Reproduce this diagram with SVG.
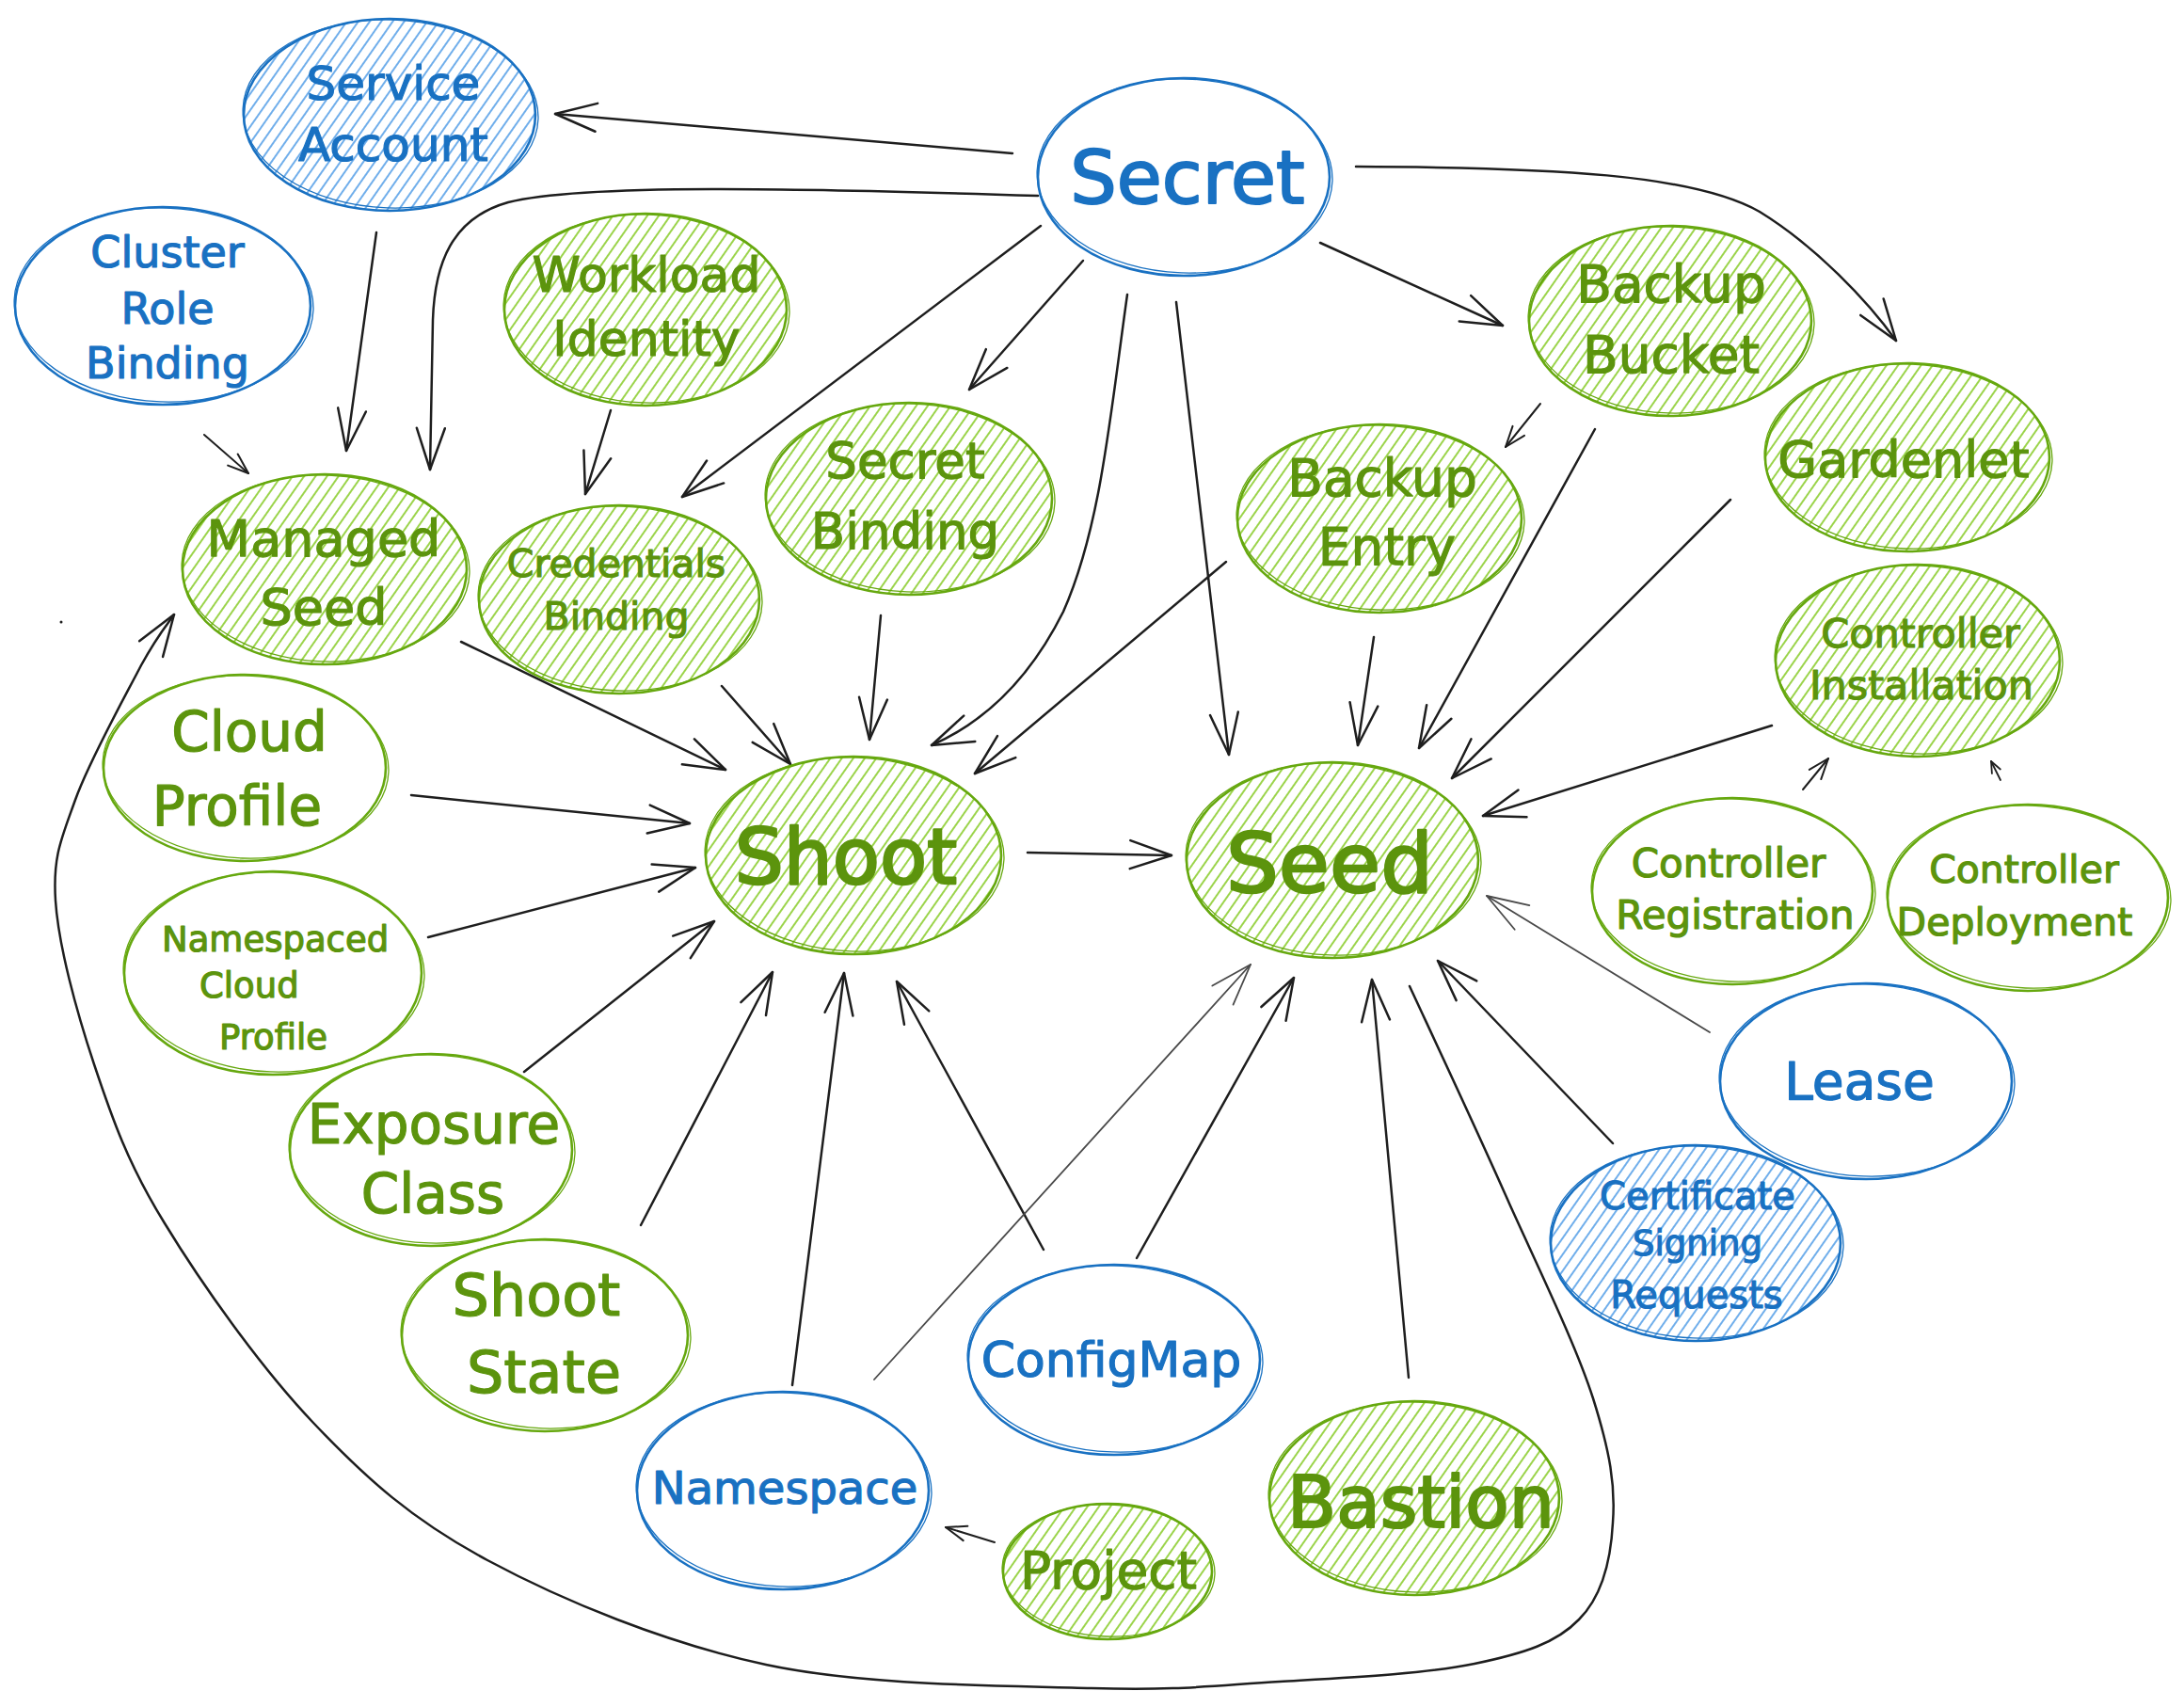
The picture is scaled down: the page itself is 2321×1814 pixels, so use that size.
<svg xmlns="http://www.w3.org/2000/svg" width="2321" height="1814" viewBox="0 0 2321 1814">
<style>
text{font-family:"DejaVu Sans","Liberation Sans",sans-serif;text-anchor:middle;stroke-width:1.2;stroke-linejoin:round}
.gt{fill:#5c940d;stroke:#5c940d}
.bt{fill:#1971c2;stroke:#1971c2}
.ge{fill:none;stroke:#66a80f;stroke-width:2.6}
.ge2{fill:none;stroke:#66a80f;stroke-width:1.3}
.be{fill:none;stroke:#1971c2;stroke-width:2.6}
.be2{fill:none;stroke:#1971c2;stroke-width:1.3}
.gh{fill:url(#hg);stroke:none}
.bh{fill:url(#hb);stroke:none}
.c{fill:none;stroke:#1e1e1e;stroke-width:2.5;stroke-linecap:round;marker-end:url(#ah)}
.cs{fill:none;stroke:#1e1e1e;stroke-width:2;stroke-linecap:round;marker-end:url(#ahs)}
.ct{fill:none;stroke:#1e1e1e;stroke-width:1.8;stroke-linecap:round;marker-end:url(#aht)}
.cg{fill:none;stroke:#4a4a4a;stroke-width:1.8;stroke-linecap:round;marker-end:url(#ahg)}
</style>
<defs>
<pattern id="hg" patternUnits="userSpaceOnUse" width="10" height="10" patternTransform="rotate(35)">
<line x1="5" y1="0" x2="5" y2="10" stroke="#82c91e" stroke-width="1.6"/>
</pattern>
<pattern id="hb" patternUnits="userSpaceOnUse" width="10" height="10" patternTransform="rotate(35)">
<line x1="5" y1="0" x2="5" y2="10" stroke="#4c9ae6" stroke-width="1.6"/>
</pattern>
<marker id="ah" viewBox="-3 -3 50 36" refX="44" refY="15" markerWidth="50" markerHeight="36" orient="auto" markerUnits="userSpaceOnUse">
<path d="M0,0 L44,15 L0,30" fill="none" stroke="#1e1e1e" stroke-width="2.5" stroke-linecap="round" stroke-linejoin="round"/>
</marker>
<marker id="ahs" viewBox="-3 -3 28 22" refX="22" refY="8" markerWidth="28" markerHeight="22" orient="auto" markerUnits="userSpaceOnUse">
<path d="M0,0 L22,8 L0,16" fill="none" stroke="#1e1e1e" stroke-width="2" stroke-linecap="round" stroke-linejoin="round"/>
</marker>
<marker id="aht" viewBox="-3 -3 18 16" refX="12" refY="5" markerWidth="18" markerHeight="16" orient="auto" markerUnits="userSpaceOnUse">
<path d="M0,0 L12,5 L0,10" fill="none" stroke="#1e1e1e" stroke-width="1.8" stroke-linecap="round" stroke-linejoin="round"/>
</marker>
<marker id="ahg" viewBox="-3 -3 50 36" refX="44" refY="15" markerWidth="50" markerHeight="36" orient="auto" markerUnits="userSpaceOnUse">
<path d="M0,0 L44,15 L0,30" fill="none" stroke="#4a4a4a" stroke-width="1.8" stroke-linecap="round" stroke-linejoin="round"/>
</marker>
</defs>
<rect width="2321" height="1814" fill="#ffffff"/>

<g id="connectors">
<path class="c" d="M1076,163 L590,121"/>
<path class="c" d="M1103,208 C850,200 620,195 540,215 C480,232 462,280 460,340 L457,499"/>
<path class="c" d="M400,247 L368,479"/>
<path class="cs" d="M217,462 L264,503"/>
<path class="c" d="M649,436 L622,525"/>
<path class="c" d="M1106,240 L725,528"/>
<path class="c" d="M1151,277 L1030,414"/>
<path class="c" d="M1198,313 C1180,440 1170,560 1130,650 C1090,730 1040,770 990,792"/>
<path class="c" d="M1250,321 L1306,802"/>
<path class="c" d="M1403,258 L1597,346"/>
<path class="c" d="M1441,177 C1650,178 1800,185 1870,225 C1930,262 1985,320 2015,362"/>
<path class="cs" d="M1637,429 L1600,475"/>
<path class="c" d="M1695,456 L1508,795"/>
<path class="c" d="M1839,531 L1543,827"/>
<path class="c" d="M1303,597 L1036,822"/>
<path class="c" d="M1460,677 L1443,792"/>
<path class="c" d="M1883,771 L1576,867"/>
<path class="cs" d="M1916,839 L1943,806"/>
<path class="ct" d="M2126,829 L2116,809"/>
<path class="c" d="M490,682 L771,818"/>
<path class="c" d="M767,729 L840,812"/>
<path class="c" d="M936,654 L924,786"/>
<path class="c" d="M437,845 L733,875"/>
<path class="c" d="M1092,906 L1245,909"/>
<path class="c" d="M455,996 L739,922"/>
<path class="c" d="M557,1139 L759,979"/>
<path class="c" d="M681,1302 L821,1033"/>
<path class="c" d="M842,1472 L897,1034"/>
<path class="c" d="M1109,1328 L953,1043"/>
<path class="cg" d="M929,1466 L1329,1025"/>
<path class="c" d="M1208,1337 L1375,1039"/>
<path class="c" d="M1497,1464 L1458,1041"/>
<path class="cg" d="M1817,1097 L1580,952"/>
<path class="c" d="M1714,1215 L1528,1021"/>
<path class="cs" d="M1057,1639 L1005,1623"/>
<path class="c" d="M1498,1048 C1516,1087 1572,1206 1604,1279 C1637,1352 1675,1430 1693,1486 C1711,1543 1717,1579 1714,1618 C1712,1657 1703,1696 1678,1721 C1654,1746 1620,1757 1567,1768 C1514,1779 1428,1783 1360,1787 C1292,1791 1251,1797 1160,1794 C1069,1791 921,1792 814,1769 C707,1746 598,1701 518,1658 C438,1615 390,1572 333,1512 C276,1452 214,1364 175,1300 C136,1237 119,1188 100,1131 C81,1074 62,1004 59,957 C56,910 65,892 80,850 C95,808 133,740 150,707 C168,674 179,662 185,653"/>
<circle cx="65" cy="661" r="1.5" fill="#1e1e1e"/>
</g>

<g id="service-account">
<ellipse class="bh" cx="414" cy="122" rx="155" ry="102"/>
<ellipse class="be" cx="414" cy="122" rx="155" ry="102"/>
<ellipse class="be2" cx="415" cy="121" rx="157" ry="100" transform="rotate(2 414 122)"/>
<text class="bt" x="418" y="106" font-size="50">Service</text>
<text class="bt" x="418" y="171" font-size="50">Account</text>
</g>

<g id="secret">
<ellipse class="be" cx="1258" cy="188" rx="155" ry="105"/>
<ellipse class="be2" cx="1259" cy="187" rx="157" ry="103" transform="rotate(2 1258 188)"/>
<text class="bt" x="1262" y="216" font-size="78" style="stroke-width:2">Secret</text>
</g>

<g id="cluster-role-binding">
<ellipse class="be" cx="173" cy="325" rx="157" ry="105"/>
<ellipse class="be2" cx="174" cy="324" rx="159" ry="103" transform="rotate(2 173 325)"/>
<text class="bt" x="178" y="284" font-size="46">Cluster</text>
<text class="bt" x="178" y="344" font-size="46">Role</text>
<text class="bt" x="178" y="402" font-size="46">Binding</text>
</g>

<g id="workload-identity">
<ellipse class="gh" cx="686" cy="329" rx="150" ry="102"/>
<ellipse class="ge" cx="686" cy="329" rx="150" ry="102"/>
<ellipse class="ge2" cx="687" cy="328" rx="152" ry="100" transform="rotate(2 686 329)"/>
<text class="gt" x="687" y="310" font-size="52">Workload</text>
<text class="gt" x="687" y="378" font-size="52">Identity</text>
</g>

<g id="managed-seed">
<ellipse class="gh" cx="345" cy="605" rx="151" ry="101"/>
<ellipse class="ge" cx="345" cy="605" rx="151" ry="101"/>
<ellipse class="ge2" cx="346" cy="604" rx="153" ry="99" transform="rotate(2 345 605)"/>
<text class="gt" x="344" y="591" font-size="54">Managed</text>
<text class="gt" x="344" y="664" font-size="54">Seed</text>
</g>

<g id="credentials-binding">
<ellipse class="gh" cx="658" cy="637" rx="149" ry="100"/>
<ellipse class="ge" cx="658" cy="637" rx="149" ry="100"/>
<ellipse class="ge2" cx="659" cy="636" rx="151" ry="98" transform="rotate(2 658 637)"/>
<text class="gt" x="655" y="613" font-size="41">Credentials</text>
<text class="gt" x="655" y="669" font-size="41">Binding</text>
</g>

<g id="secret-binding">
<ellipse class="gh" cx="966" cy="530" rx="152" ry="102"/>
<ellipse class="ge" cx="966" cy="530" rx="152" ry="102"/>
<ellipse class="ge2" cx="967" cy="529" rx="154" ry="100" transform="rotate(2 966 530)"/>
<text class="gt" x="962" y="508" font-size="53">Secret</text>
<text class="gt" x="962" y="583" font-size="53">Binding</text>
</g>

<g id="cloud-profile">
<ellipse class="ge" cx="260" cy="816" rx="150" ry="99"/>
<ellipse class="ge2" cx="261" cy="815" rx="152" ry="97" transform="rotate(2 260 816)"/>
<text class="gt" x="265" y="798" font-size="58">Cloud</text>
<text class="gt" x="252" y="877" font-size="58">Profile</text>
</g>

<g id="shoot">
<ellipse class="gh" cx="907" cy="909" rx="157" ry="105"/>
<ellipse class="ge" cx="907" cy="909" rx="157" ry="105"/>
<ellipse class="ge2" cx="908" cy="908" rx="159" ry="103" transform="rotate(2 907 909)"/>
<text class="gt" x="899" y="939" font-size="82" style="stroke-width:2.5">Shoot</text>
</g>

<g id="seed">
<ellipse class="gh" cx="1416" cy="914" rx="155" ry="104"/>
<ellipse class="ge" cx="1416" cy="914" rx="155" ry="104"/>
<ellipse class="ge2" cx="1417" cy="913" rx="157" ry="102" transform="rotate(2 1416 914)"/>
<text class="gt" x="1413" y="948" font-size="88" style="stroke-width:2.5">Seed</text>
</g>

<g id="backup-bucket">
<ellipse class="gh" cx="1775" cy="341" rx="150" ry="101"/>
<ellipse class="ge" cx="1775" cy="341" rx="150" ry="101"/>
<ellipse class="ge2" cx="1776" cy="340" rx="152" ry="99" transform="rotate(2 1775 341)"/>
<text class="gt" x="1776" y="321" font-size="55">Backup</text>
<text class="gt" x="1776" y="396" font-size="55">Bucket</text>
</g>

<g id="gardenlet">
<ellipse class="gh" cx="2027" cy="486" rx="151" ry="100"/>
<ellipse class="ge" cx="2027" cy="486" rx="151" ry="100"/>
<ellipse class="ge2" cx="2028" cy="485" rx="153" ry="98" transform="rotate(2 2027 486)"/>
<text class="gt" x="2023" y="507" font-size="54">Gardenlet</text>
</g>

<g id="backup-entry">
<ellipse class="gh" cx="1466" cy="551" rx="151" ry="100"/>
<ellipse class="ge" cx="1466" cy="551" rx="151" ry="100"/>
<ellipse class="ge2" cx="1467" cy="550" rx="153" ry="98" transform="rotate(2 1466 551)"/>
<text class="gt" x="1469" y="527" font-size="55">Backup</text>
<text class="gt" x="1474" y="600" font-size="55">Entry</text>
</g>

<g id="controller-installation">
<ellipse class="gh" cx="2038" cy="702" rx="151" ry="102"/>
<ellipse class="ge" cx="2038" cy="702" rx="151" ry="102"/>
<ellipse class="ge2" cx="2039" cy="701" rx="153" ry="100" transform="rotate(2 2038 702)"/>
<text class="gt" x="2041" y="688" font-size="43">Controller</text>
<text class="gt" x="2042" y="743" font-size="43">Installation</text>
</g>

<g id="controller-registration">
<ellipse class="ge" cx="1841" cy="947" rx="149" ry="99"/>
<ellipse class="ge2" cx="1842" cy="946" rx="151" ry="97" transform="rotate(2 1841 947)"/>
<text class="gt" x="1837" y="932" font-size="42">Controller</text>
<text class="gt" x="1844" y="987" font-size="42">Registration</text>
</g>

<g id="controller-deployment">
<ellipse class="ge" cx="2155" cy="954" rx="149" ry="99"/>
<ellipse class="ge2" cx="2156" cy="953" rx="151" ry="97" transform="rotate(2 2155 954)"/>
<text class="gt" x="2151" y="938" font-size="41">Controller</text>
<text class="gt" x="2141" y="994" font-size="41">Deployment</text>
</g>

<g id="lease">
<ellipse class="be" cx="1983" cy="1149" rx="155" ry="104"/>
<ellipse class="be2" cx="1984" cy="1148" rx="157" ry="102" transform="rotate(2 1983 1149)"/>
<text class="bt" x="1976" y="1168" font-size="55">Lease</text>
</g>

<g id="certificate-signing-requests">
<ellipse class="bh" cx="1802" cy="1321" rx="154" ry="104"/>
<ellipse class="be" cx="1802" cy="1321" rx="154" ry="104"/>
<ellipse class="be2" cx="1803" cy="1320" rx="156" ry="102" transform="rotate(2 1802 1321)"/>
<text class="bt" x="1804" y="1285" font-size="40">Certificate</text>
<text class="bt" x="1804" y="1334" font-size="37">Signing</text>
<text class="bt" x="1803" y="1390" font-size="40">Requests</text>
</g>

<g id="configmap">
<ellipse class="be" cx="1184" cy="1445" rx="155" ry="101"/>
<ellipse class="be2" cx="1185" cy="1444" rx="157" ry="99" transform="rotate(2 1184 1445)"/>
<text class="bt" x="1181" y="1463" font-size="52">ConfigMap</text>
</g>

<g id="bastion">
<ellipse class="gh" cx="1503" cy="1592" rx="154" ry="103"/>
<ellipse class="ge" cx="1503" cy="1592" rx="154" ry="103"/>
<ellipse class="ge2" cx="1504" cy="1591" rx="156" ry="101" transform="rotate(2 1503 1592)"/>
<text class="gt" x="1510" y="1623" font-size="76" style="stroke-width:2.2">Bastion</text>
</g>

<g id="project">
<ellipse class="gh" cx="1177" cy="1670" rx="111" ry="72"/>
<ellipse class="ge" cx="1177" cy="1670" rx="111" ry="72"/>
<ellipse class="ge2" cx="1178" cy="1669" rx="113" ry="70" transform="rotate(2 1177 1670)"/>
<text class="gt" x="1178" y="1688" font-size="55">Project</text>
</g>

<g id="namespace">
<ellipse class="be" cx="832" cy="1584" rx="155" ry="105"/>
<ellipse class="be2" cx="833" cy="1583" rx="157" ry="103" transform="rotate(2 832 1584)"/>
<text class="bt" x="834" y="1598" font-size="48">Namespace</text>
</g>

<g id="shoot-state">
<ellipse class="ge" cx="579" cy="1419" rx="152" ry="102"/>
<ellipse class="ge2" cx="580" cy="1418" rx="154" ry="100" transform="rotate(2 579 1419)"/>
<text class="gt" x="570" y="1398" font-size="62">Shoot</text>
<text class="gt" x="578" y="1480" font-size="62">State</text>
</g>

<g id="exposure-class">
<ellipse class="ge" cx="458" cy="1222" rx="150" ry="102"/>
<ellipse class="ge2" cx="459" cy="1221" rx="152" ry="100" transform="rotate(2 458 1222)"/>
<text class="gt" x="461" y="1215" font-size="58">Exposure</text>
<text class="gt" x="460" y="1289" font-size="58">Class</text>
</g>

<g id="namespaced-cloud-profile">
<ellipse class="ge" cx="290" cy="1034" rx="158" ry="108"/>
<ellipse class="ge2" cx="291" cy="1033" rx="160" ry="106" transform="rotate(2 290 1034)"/>
<text class="gt" x="172" y="1011" font-size="37" style="text-anchor:start">Namespaced</text>
<text class="gt" x="212" y="1060" font-size="37" style="text-anchor:start">Cloud</text>
<text class="gt" x="233" y="1115" font-size="37" style="text-anchor:start">Profile</text>
</g>
</svg>
